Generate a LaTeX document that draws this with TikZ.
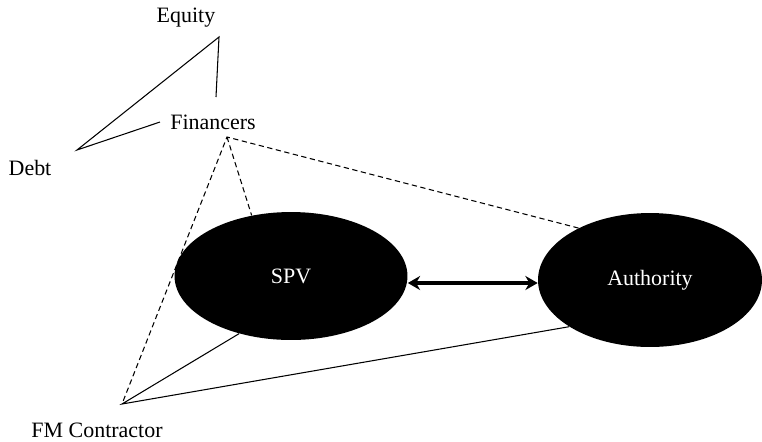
\documentclass[tikz,border=0pt]{standalone}
\usepackage{fontspec}
\setmainfont{Liberation Serif}
\usetikzlibrary{shapes.geometric,arrows.meta}
\begin{document}
\begin{tikzpicture}[x=0.02cm,y=-0.02cm,font=\fontsize{12.5}{15}\selectfont,
		lbl/.style={inner sep=1pt},
		blob/.style={ellipse,fill=black,text=white,inner sep=0pt},
		lnk/.style={line width=0.6pt},
		dlnk/.style={line width=0.6pt,dashed,dash pattern=on 3pt off 2pt}]
	\useasboundingbox (0,0) rectangle (762,441);
	% texts
	\node[lbl] (equity) at (186,18) {Equity};
	\node[lbl] (debt) at (30,168) {Debt};
	\node[lbl] (fin) at (213,122) {Financers};
	\node[lbl] (fmc) at (97,430) {FM Contractor};
	% parties
	\node[blob,minimum width=4.66cm,minimum height=2.56cm] (spv) at (291,276) {SPV};
	\node[blob,minimum width=4.48cm,minimum height=2.68cm] (auth) at (650,280) {Authority};
	% meeting points
	\coordinate (eq) at (219,37);
	\coordinate (db) at (77,150);
	\coordinate (fntop) at (216,97);
	\coordinate (fnleft) at (160,122);
	\coordinate (fn) at (227,137);
	\coordinate (fm) at (122,404);
	\draw[lnk] (fntop) -- (eq) -- (db) -- (fnleft);
	\draw[dlnk] (auth.144) -- (fn) -- (fm)
		(fn) -- (spv.123);
	\draw[lnk] (spv.228) -- (fm) -- (auth.210);
	\draw[line width=1.8pt,{Stealth[length=7pt,width=8pt]}-{Stealth[length=7pt,width=8pt]}]
		(spv.east) ++(0,7) coordinate (sa) (auth.west) ++(0,3) coordinate (ab)
		(sa) -- (ab);
\end{tikzpicture}
\end{document}
